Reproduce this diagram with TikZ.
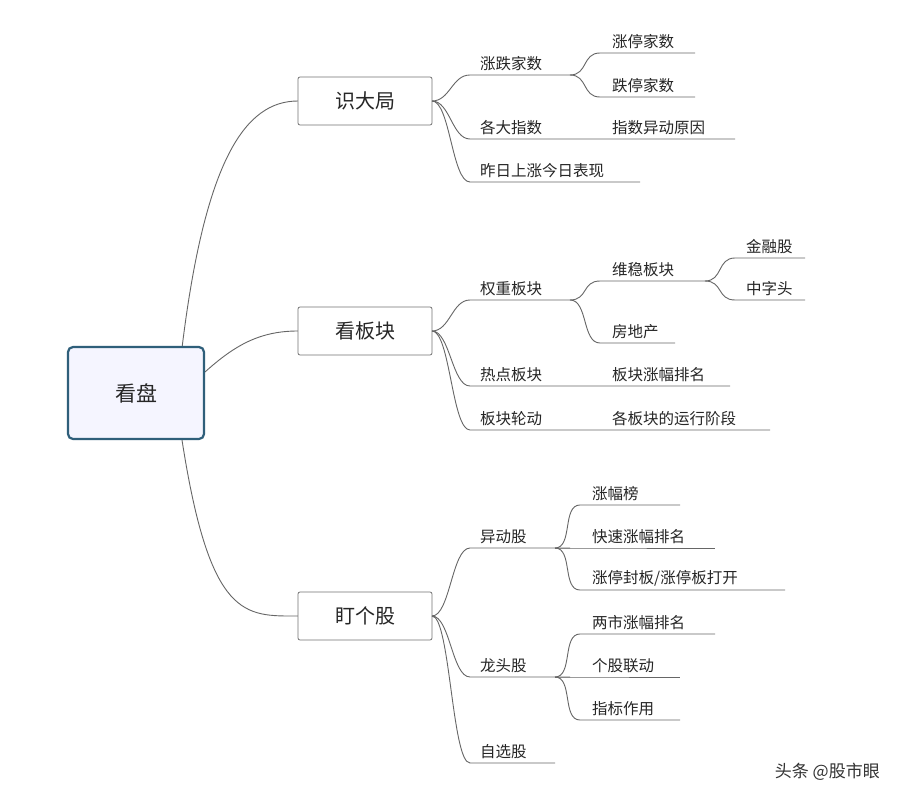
\documentclass[tikz,border=0pt]{standalone}
\usepackage{fontspec}
\newfontfamily\cjk{Noto Sans CJK SC}
\definecolor{rootc}{HTML}{2F5F7A}
\newcommand\mybr[5]{\draw[conn] (#1,#2) .. controls ({#1+18},#2) and ({#3-18},#5) .. (#3,#5) -- (#4,#5);}
\begin{document}
\begin{tikzpicture}[x=1pt,y=-1pt,
  conn/.style={draw=black!60,line width=0.9pt},
  lbl/.style={font=\cjk\fontsize{15.5}{17}\selectfont,text=black!85,anchor=south west,inner sep=0pt},
  l1/.style={draw=black!55,line width=0.8pt,fill=white,rounded corners=2pt,minimum width=134pt,minimum height=48pt,font=\cjk\fontsize{20}{22}\selectfont,text=black!85},
  rootbox/.style={draw=rootc,line width=2.2pt,fill=blue!4,rounded corners=5pt,minimum width=136pt,minimum height=92pt,font=\cjk\fontsize{21}{24}\selectfont,text=black!85}]
\useasboundingbox (0,0) rectangle (898,800);
\fill[white] (0,0) rectangle (898,800);
% root curves
\draw[conn] (182,348) .. controls (205,160) and (245,101) .. (298,101);
\draw[conn] (205,372) .. controls (235,345) and (260,331) .. (298,331);
\draw[conn] (182,440) .. controls (210,620) and (245,616) .. (298,616);
\node[rootbox] (root) at (136,393) {看盘};
\node[l1] (a) at (365,101) {识大局};
\node[l1] (b) at (365,331) {看板块};
\node[l1] (c) at (365,616) {盯个股};
% 识大局
\mybr{432}{101}{470}{570}{75}
\mybr{570}{75}{600}{695}{53}
\mybr{570}{75}{600}{695}{97}
\mybr{432}{101}{470}{735}{139}
\mybr{432}{101}{470}{640}{182}
\node[lbl] (a1) at (480,71) {涨跌家数};
\node[lbl] (a11) at (612,49) {涨停家数};
\node[lbl] (a12) at (612,93) {跌停家数};
\node[lbl] (a2) at (480,135) {各大指数};
\node[lbl] (a21) at (612,135) {指数异动原因};
\node[lbl] (a3) at (480,178) {昨日上涨今日表现};
% 看板块
\mybr{432}{331}{470}{570}{300}
\mybr{570}{300}{600}{705}{281}
\mybr{705}{281}{735}{805}{258}
\mybr{705}{281}{735}{805}{300}
\mybr{570}{300}{600}{675}{343}
\mybr{432}{331}{470}{730}{386}
\mybr{432}{331}{470}{770}{430}
\node[lbl] (b1) at (480,296) {权重板块};
\node[lbl] (b11) at (612,277) {维稳板块};
\node[lbl] (b111) at (746,254) {金融股};
\node[lbl] (b112) at (746,296) {中字头};
\node[lbl] (b12) at (612,339) {房地产};
\node[lbl] (b2) at (480,382) {热点板块};
\node[lbl] (b21) at (612,382) {板块涨幅排名};
\node[lbl] (b3) at (480,426) {板块轮动};
\node[lbl] (b31) at (612,426) {各板块的运行阶段};
% 盯个股
\mybr{432}{616}{470}{570}{548}
\mybr{555}{548}{580}{680}{505}
\mybr{555}{548}{580}{715}{548}
\mybr{555}{548}{580}{785}{590}
\mybr{432}{616}{470}{570}{677}
\mybr{555}{677}{580}{715}{634}
\mybr{555}{677}{580}{680}{677}
\mybr{555}{677}{580}{680}{720}
\mybr{432}{616}{470}{555}{763}
\node[lbl] (c1) at (480,544) {异动股};
\node[lbl] (c11) at (592,501) {涨幅榜};
\node[lbl] (c12) at (592,544) {快速涨幅排名};
\node[lbl] (c13) at (592,586) {涨停封板/涨停板打开};
\node[lbl] (c2) at (480,673) {龙头股};
\node[lbl] (c21) at (592,630) {两市涨幅排名};
\node[lbl] (c22) at (592,673) {个股联动};
\node[lbl] (c23) at (592,716) {指标作用};
\node[lbl] (c3) at (480,759) {自选股};
\node[font=\cjk\fontsize{17}{20}\selectfont,text=black!80,anchor=south east,inner sep=0pt] (wm) at (880,781) {头条 @股市眼};
\end{tikzpicture}
\end{document}
